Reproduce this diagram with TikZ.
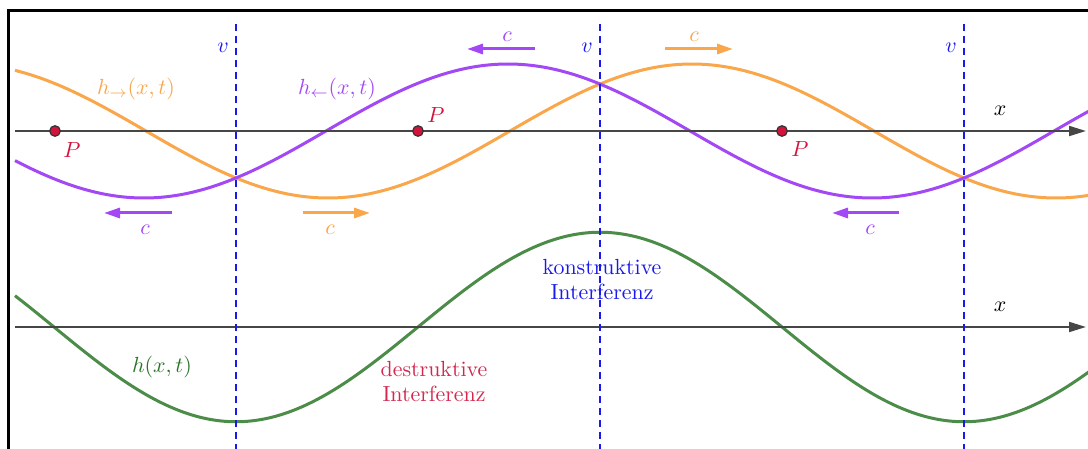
\documentclass[tikz,border=0pt]{standalone}
\usetikzlibrary{arrows.meta}
\definecolor{wOrange}{RGB}{250,166,74}
\definecolor{wPurple}{RGB}{163,72,245}
\definecolor{wGreen}{RGB}{75,140,72}
\definecolor{wGreenText}{RGB}{40,115,40}
\definecolor{wRed}{RGB}{210,20,60}
\definecolor{wRedText}{RGB}{210,40,80}
\definecolor{wBlue}{RGB}{25,25,235}
\definecolor{wAxis}{RGB}{70,70,70}
\begin{document}
\begin{tikzpicture}[x=0.5pt,y=-0.5pt,
  every node/.style={font=\fontsize{10.95}{12.5}\selectfont, inner sep=0pt},
  wave/.style={line width=1.5pt},
  axisline/.style={draw=wAxis, line width=1pt, -{Triangle[length=8.5pt,width=5pt]}},
  vline/.style={draw=wBlue, line width=1pt, dash pattern=on 3.5pt off 2.5pt},
  carrow/.style={line width=1.5pt, -{Triangle[length=8pt,width=5pt]}},
  pt/.style={circle, fill=wRed, draw=black!80, line width=0.6pt, minimum size=5.3pt, inner sep=0pt},
  lbl/.style={inner sep=0pt}]
\useasboundingbox (0,0) rectangle (1088,449);
\begin{scope}
\clip (0,0) rectangle (1088,449);
% frame
\coordinate (fBL) at (8,470);
\coordinate (fTL) at (8,11);
\coordinate (fTR) at (1110,11);
\draw[line width=1.5pt] (fBL) -- (fTL) -- (fTR);
% waves
\draw[wave, wOrange] plot[domain=15:1095, samples=220, smooth] (\x,{131-67*cos((\x-692)/728*360)});
\draw[wave, wPurple] plot[domain=15:1095, samples=220, smooth] (\x,{131-67*cos((\x-508)/728*360)});
\draw[wave, wGreen] plot[domain=15:1095, samples=220, smooth] (\x,{327-94.75*cos((\x-600)/728*360)});
% axes
\coordinate (a1s) at (15,131); \coordinate (a1e) at (1086,131);
\coordinate (a2s) at (15,327); \coordinate (a2e) at (1086,327);
\draw[axisline] (a1s) -- (a1e);
\draw[axisline] (a2s) -- (a2e);
% dashed lines
\coordinate (v1t) at (236,24); \coordinate (v1b) at (236,460);
\coordinate (v2t) at (600,24); \coordinate (v2b) at (600,460);
\coordinate (v3t) at (964,24); \coordinate (v3b) at (964,460);
\draw[vline] (v1t) -- (v1b);
\draw[vline] (v2t) -- (v2b);
\draw[vline] (v3t) -- (v3b);
\end{scope}
% c arrows
\coordinate (cA1) at (535,49); \coordinate (cA2) at (467,49);
\coordinate (cB1) at (665,49); \coordinate (cB2) at (733,49);
\coordinate (cC1) at (172,213); \coordinate (cC2) at (104,213);
\coordinate (cD1) at (303,213); \coordinate (cD2) at (370,213);
\coordinate (cE1) at (899,213); \coordinate (cE2) at (832,213);
\draw[carrow, wPurple] (cA1) -- (cA2);
\draw[carrow, wOrange] (cB1) -- (cB2);
\draw[carrow, wPurple] (cC1) -- (cC2);
\draw[carrow, wOrange] (cD1) -- (cD2);
\draw[carrow, wPurple] (cE1) -- (cE2);
\node[lbl, text=wPurple] (lcA) at (507,37) {$c$};
\node[lbl, text=wOrange] (lcB) at (694,37) {$c$};
\node[lbl, text=wPurple] (lcC) at (145,230) {$c$};
\node[lbl, text=wOrange] (lcD) at (330,230) {$c$};
\node[lbl, text=wPurple] (lcE) at (870,230) {$c$};
% points
\node[pt] (P1) at (55,131) {};
\node[pt] (P2) at (418,131) {};
\node[pt] (P3) at (782,131) {};
\node[lbl, text=wRed] (lP1) at (72,150) {$P$};
\node[lbl, text=wRed] (lP2) at (436,115) {$P$};
\node[lbl, text=wRed] (lP3) at (800,149) {$P$};
% labels
\node[lbl, text=wBlue] (lv1) at (223,48) {$v$};
\node[lbl, text=wBlue] (lv2) at (587,48) {$v$};
\node[lbl, text=wBlue] (lv3) at (951,48) {$v$};
\node[lbl] (lx1) at (1000,111) {$x$};
\node[lbl] (lx2) at (1000,307) {$x$};
\node[lbl, text=wOrange] (lho) at (136,89) {$h_{\rightarrow}(x,t)$};
\node[lbl, text=wPurple] (lhp) at (337,89) {$h_{\leftarrow}(x,t)$};
\node[lbl, text=wGreenText] (lhg) at (162,367) {$h(x,t)$};
\node[lbl, text=wBlue, align=center] (lkon) at (602,280) {konstruktive\\Interferenz};
\node[lbl, text=wRedText, align=center] (ldes) at (434,382) {destruktive\\Interferenz};
\end{tikzpicture}
\end{document}
